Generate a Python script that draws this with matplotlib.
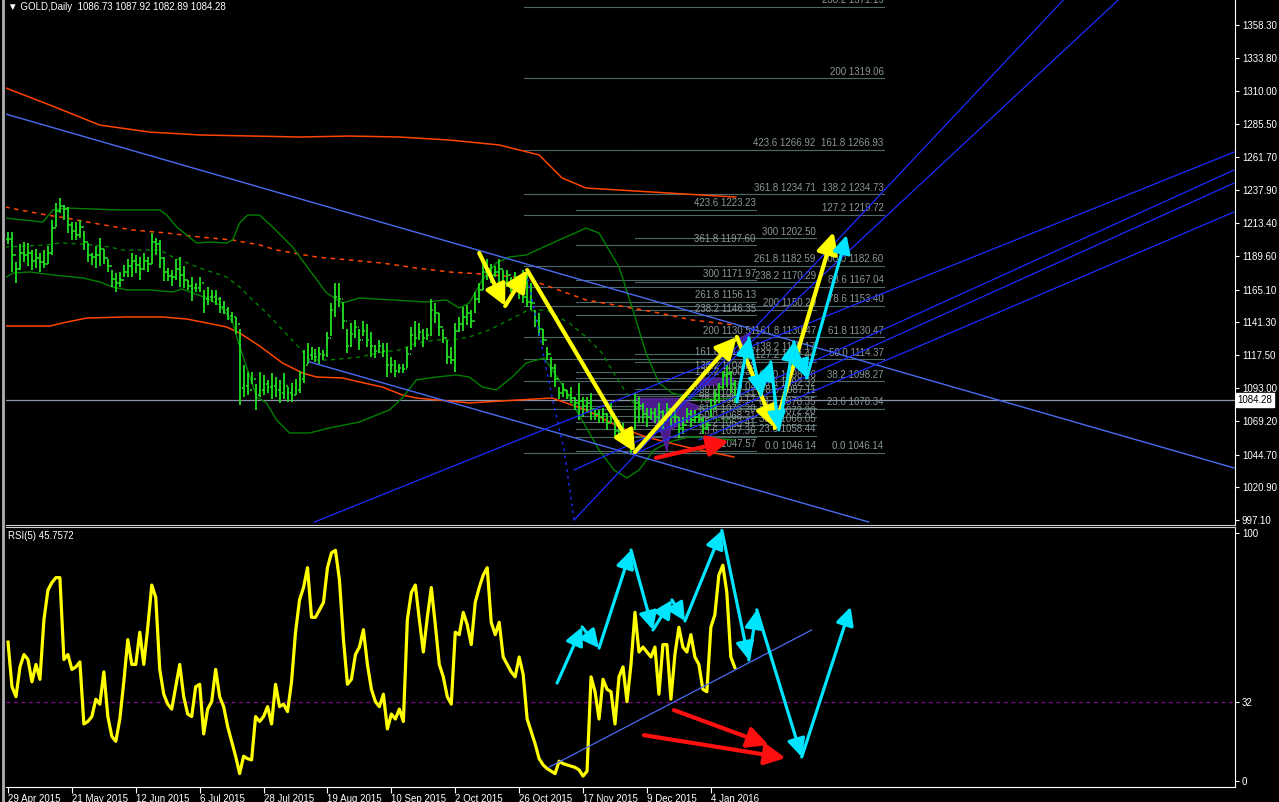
import matplotlib
matplotlib.use("Agg")
import matplotlib.pyplot as plt
import matplotlib.transforms as mtransforms
from matplotlib.lines import Line2D
from matplotlib.patches import Polygon

plt.rcParams["font.family"] = ["Liberation Sans", "DejaVu Sans"]

# ---------------- data (bar index 0 = 29 Apr 2015) ----------------
highs = [1207, 1207, 1185, 1198, 1200, 1199, 1194, 1195, 1192, 1194,
         1197, 1216, 1228, 1232, 1227, 1225, 1214, 1214, 1216, 1208,
         1199, 1192, 1197, 1203, 1195, 1187, 1179, 1177, 1178, 1183,
         1187, 1192, 1190, 1189, 1192, 1189, 1206, 1203, 1201, 1189,
         1181, 1179, 1187, 1189, 1182, 1172, 1174, 1170, 1174, 1165,
         1167, 1165, 1165, 1160, 1157, 1152, 1149, 1145, 1136, 1110,
         1105, 1105, 1096, 1105, 1103, 1099, 1104, 1101, 1099, 1104,
         1094, 1097, 1100, 1106, 1121, 1126, 1123, 1122, 1123, 1121,
         1134, 1155, 1170, 1170, 1156, 1136, 1141, 1143, 1136, 1142,
         1140, 1134, 1125, 1128, 1126, 1126, 1116, 1114, 1111, 1111,
         1123, 1138, 1142, 1141, 1136, 1137, 1158, 1155, 1148, 1136,
         1128, 1123, 1141, 1145, 1152, 1154, 1150, 1163, 1170, 1184,
         1187, 1184, 1182, 1187, 1179, 1179, 1174, 1178, 1172, 1179,
         1179, 1170, 1150, 1148, 1136, 1123, 1116, 1111, 1094, 1097,
         1092, 1094, 1087, 1097, 1087, 1087, 1090, 1079, 1077, 1079,
         1075, 1082, 1072, 1070, 1068, 1063, 1058, 1090, 1087, 1082,
         1079, 1079, 1079, 1082, 1077, 1082, 1079, 1077, 1072, 1072,
         1079, 1077, 1077, 1075, 1072, 1070, 1085, 1092, 1097, 1106,
         1111, 1106, 1099]
lows = [1198, 1178, 1170, 1179, 1185, 1182, 1179, 1181, 1178, 1181,
        1184, 1190, 1211, 1221, 1216, 1206, 1201, 1201, 1203, 1194,
        1185, 1183, 1181, 1182, 1184, 1178, 1167, 1163, 1167, 1174,
        1174, 1174, 1177, 1172, 1179, 1178, 1184, 1190, 1181, 1171,
        1171, 1168, 1172, 1167, 1166, 1165, 1157, 1163, 1163, 1148,
        1154, 1156, 1154, 1148, 1147, 1143, 1141, 1133, 1081, 1087,
        1088, 1096, 1077, 1087, 1088, 1090, 1085, 1087, 1082, 1085,
        1083, 1083, 1088, 1090, 1097, 1111, 1114, 1112, 1111, 1114,
        1116, 1131, 1145, 1152, 1136, 1119, 1123, 1130, 1121, 1131,
        1123, 1116, 1115, 1119, 1116, 1101, 1104, 1101, 1104, 1104,
        1108, 1121, 1123, 1128, 1123, 1128, 1131, 1141, 1131, 1126,
        1111, 1111, 1105, 1134, 1135, 1139, 1137, 1148, 1155, 1165,
        1172, 1170, 1174, 1167, 1163, 1167, 1163, 1167, 1158, 1155,
        1152, 1150, 1138, 1131, 1125, 1114, 1101, 1094, 1085, 1087,
        1085, 1082, 1077, 1070, 1072, 1075, 1070, 1070, 1068, 1068,
        1063, 1068, 1057, 1060, 1055, 1050, 1046, 1063, 1068, 1068,
        1065, 1070, 1068, 1068, 1063, 1072, 1065, 1068, 1057, 1060,
        1068, 1065, 1068, 1068, 1060, 1063, 1072, 1077, 1082, 1092,
        1094, 1090, 1082]
closes = [1202, 1190, 1180, 1192, 1190, 1192, 1186, 1188, 1185, 1184,
          1192, 1210, 1222, 1226, 1224, 1212, 1208, 1205, 1211, 1200,
          1190, 1189, 1190, 1195, 1188, 1182, 1173, 1170, 1172, 1178,
          1182, 1186, 1183, 1180, 1186, 1184, 1200, 1198, 1188, 1178,
          1175, 1174, 1180, 1176, 1172, 1168, 1166, 1166, 1170, 1158,
          1160, 1160, 1158, 1152, 1150, 1146, 1145, 1140, 1093, 1095,
          1092, 1100, 1088, 1092, 1096, 1094, 1095, 1092, 1090, 1095,
          1090, 1088, 1092, 1100, 1110, 1117, 1118, 1116, 1118, 1117,
          1130, 1150, 1160, 1158, 1142, 1124, 1133, 1138, 1128, 1135,
          1128, 1124, 1120, 1124, 1120, 1110, 1110, 1106, 1108, 1107,
          1118, 1132, 1130, 1134, 1130, 1132, 1150, 1148, 1138, 1130,
          1116, 1114, 1135, 1140, 1145, 1148, 1142, 1158, 1165, 1178,
          1180, 1176, 1178, 1180, 1170, 1176, 1168, 1174, 1164, 1160,
          1156, 1155, 1142, 1136, 1128, 1118, 1108, 1100, 1090, 1092,
          1088, 1086, 1082, 1084, 1080, 1082, 1078, 1074, 1072, 1074,
          1068, 1074, 1062, 1064, 1060, 1056, 1052, 1082, 1080, 1074,
          1072, 1075, 1072, 1076, 1070, 1078, 1072, 1072, 1064, 1066,
          1074, 1070, 1072, 1070, 1064, 1066, 1080, 1088, 1094, 1102,
          1104, 1096, 1084.28]
rsi = [56, 38, 34, 46, 51, 49, 40, 47, 41, 65,
       77, 80, 82, 82, 49, 51, 45, 46, 48, 23,
       24, 26, 33, 31, 44, 26, 18, 16, 25, 40,
       57, 47, 47, 60, 47, 62, 79, 74, 45, 35,
       31, 29, 38, 47, 34, 27, 26, 38, 39, 19,
       29, 32, 45, 34, 30, 22, 16, 10, 3, 10,
       9, 8.5, 26, 24, 26, 30, 23, 39, 30, 31,
       28, 40, 60, 73, 78, 86, 66, 66, 69, 72,
       86, 92, 93, 81, 57, 39, 41, 51, 54, 61,
       47, 37, 32, 30, 35, 21, 27, 25, 29, 24,
       65, 76, 79, 65, 52, 66, 78, 63, 47, 42,
       34, 31, 60, 59, 68, 63, 55, 72, 78, 83,
       86, 64, 59, 64, 50, 47, 44, 42, 50, 43,
       25, 20, 15, 9, 6.5, 5, 4, 3, 8, 7,
       6.5, 6, 5.5, 4.5, 2, 4, 42, 36, 25, 41,
       37, 36, 23, 42, 46, 32, 47, 68, 52, 54,
       52, 50, 54, 35, 55, 55, 33, 51, 62, 54,
       52, 59, 50, 47, 37, 36, 62, 67, 83, 87,
       76, 50, 45.76]

date_pos = [0, 16, 32, 48, 64, 80, 96, 112, 128, 144, 160, 176]
date_labels = ["29 Apr 2015", "21 May 2015", "12 Jun 2015", "6 Jul 2015",
               "28 Jul 2015", "19 Aug 2015", "10 Sep 2015", "2 Oct 2015",
               "26 Oct 2015", "17 Nov 2015", "9 Dec 2015", "4 Jan 2016"]
price_ticks = [1358.30, 1333.80, 1310.00, 1285.50, 1261.70, 1237.90, 1213.40,
               1189.60, 1165.10, 1141.30, 1117.50, 1093.00, 1069.20, 1044.70,
               1020.90, 997.10]
last_price = 1084.28

# indicator lines as (bar, price) knots
bb_upper = [(-0.75, 1217.2), (8.75, 1214.3), (11.25, 1223.1), (14.75, 1224.5), (28, 1223.1),
            (38, 1223.1), (39.75, 1219.4), (42.25, 1210.7), (44.75, 1204.8), (47.25, 1199.0),
            (50.5, 1199.7), (54.75, 1199.0), (56.25, 1201.2), (58, 1213.6), (60, 1219.4),
            (63, 1219.4), (66.25, 1210.7), (71.25, 1196.1), (75.5, 1179.3), (79.75, 1162.6),
            (83.75, 1155.3), (88, 1158.9), (96.25, 1157.5), (104.75, 1156.0), (109.75, 1157.5),
            (113, 1151.6), (115.5, 1155.3), (118.75, 1172.0), (122.25, 1184.4), (125.5, 1188.8),
            (129.75, 1190.3), (138, 1201.2), (144.75, 1209.9), (148, 1206.3), (153, 1181.5),
            (156.25, 1152.4), (159.75, 1118.8), (163, 1097.0), (166.25, 1089.7), (173, 1084.6),
            (181.75, 1086.0)]
bb_mid = [(-0.75, 1196.1), (9.75, 1197.6), (13, 1199.0), (18.75, 1198.3), (25.5, 1196.1),
          (28.75, 1193.9), (38, 1193.9), (41.25, 1188.8), (48, 1180.8), (54.75, 1174.2),
          (58, 1166.9), (61.25, 1157.5), (64.75, 1148.0), (68.75, 1135.6), (73, 1122.5),
          (75.5, 1113.7), (80.5, 1113.7), (88, 1115.9), (93.75, 1119.5), (98, 1121.0),
          (102.25, 1126.1), (107.25, 1128.3), (111.25, 1128.3), (115.5, 1130.5), (120.5, 1135.6),
          (125.5, 1142.9), (129.75, 1149.4), (134.75, 1150.2), (140.5, 1140.7), (144.75, 1130.5),
          (148.75, 1118.8), (152.25, 1101.3), (155.5, 1086.8), (158, 1077.3), (161.25, 1072.2),
          (173, 1070.0), (181.75, 1070.0)]
bb_lower = [(-0.75, 1173.5), (1.25, 1177.1), (5.5, 1177.9), (11.25, 1175.7), (18.75, 1173.5),
            (23, 1170.6), (26.25, 1166.9), (29.75, 1164.8), (35.5, 1164.8), (41.25, 1163.3),
            (43.5, 1165.5), (46.25, 1162.6), (49.75, 1158.9), (53, 1153.8), (56.25, 1141.4),
            (57.5, 1128.3), (59.75, 1108.6), (62.25, 1086.7), (64.75, 1082.4), (67.25, 1070.0),
            (70.5, 1060.5), (75.5, 1060.5), (80.5, 1064.2), (88, 1068.5), (95.5, 1077.3),
            (98.75, 1086.0), (102.25, 1099.2), (107.25, 1101.3), (112.25, 1102.8), (115.5, 1101.3),
            (118.75, 1094.0), (122.25, 1091.9), (126.25, 1101.3), (129.75, 1111.5), (134.25, 1115.2),
            (138, 1099.2), (143, 1073.6), (148, 1048.1), (151.75, 1033.5), (155, 1027.7),
            (158, 1033.5), (161.75, 1048.1), (165.5, 1053.9), (170.5, 1057.6), (175.5, 1056.9),
            (181.75, 1055.4)]
ma_long = [(-0.75, 1225.3), (3, 1223.1), (9.75, 1219.4), (14.75, 1217.2), (21.25, 1213.6),
           (31.25, 1208.5), (39.75, 1206.3), (48, 1203.4), (56.25, 1201.2), (63, 1197.6),
           (67.25, 1193.9), (77.25, 1188.8), (93.75, 1184.4), (102.25, 1180.8), (110.5, 1177.9),
           (118.75, 1176.4), (127.25, 1174.2), (133, 1169.9), (144.75, 1157.5), (154.75, 1152.4),
           (163, 1148.0), (171.25, 1142.9), (181.75, 1139.3)]
env_low = [(-0.75, 1138.5), (10.5, 1138.5), (14.75, 1141.4), (19.75, 1144.3), (29.75, 1145.1),
           (38.75, 1145.1), (44.75, 1143.6), (49.75, 1140.7), (54.75, 1137.8), (58, 1133.4),
           (63, 1123.9), (68.75, 1111.5), (73.75, 1104.2), (77.25, 1101.3), (83.75, 1100.6),
           (88, 1097.7), (93.75, 1094.0), (98.75, 1088.2), (102.25, 1086.0), (115.5, 1082.4),
           (128, 1084.6), (136.25, 1086.0), (144.75, 1077.3), (153, 1064.9), (159.75, 1057.6),
           (169.75, 1050.3), (181.75, 1043.0)]
env_high = [(-0.5, 1312.0), (10.5, 1299.6), (23, 1285.0), (35.5, 1279.9), (48, 1277.8),
            (73, 1276.3), (85.5, 1277.0), (98, 1276.3), (110.5, 1274.1), (123, 1270.5),
            (133, 1263.2), (138.75, 1246.4), (144.75, 1239.1), (161.25, 1236.2), (182.25, 1232.5)]

# trend / channel lines (bar, price) pairs
channel_lines = [[(-0.5, 1293.0), (307, 1035.0)],
                 [(75.5, 1112.3), (215.5, 995.6)]]
fan_lines = [[(76.75, 995.6), (307, 1265.3)],
             [(141.75, 1033.5), (307, 1252.2)],
             [(158, 1046.6), (307, 1242.7)],
             [(173, 1055.4), (307, 1221.6)],
             [(141.75, 997.1), (264.25, 1376.2)],
             [(170.5, 1084.6), (278, 1376.2)]]
dotted_blue = [(129.75, 1177.9), (133, 1133.4), (136.25, 1086.7), (139.25, 1048.1), (141.75, 997.1)]

# fibonacci sets: (levels, prices, start bar, end bar)
fib_levels = ["0.0", "23.6", "38.2", "50.0", "61.8", "78.6", "88.6", "100.0", "127.2",
              "138.2", "161.8", "200", "238.2", "261.8", "300", "361.8", "423.6"]
fib_a = [1047.57, 1057.36, 1063.41, 1068.31, 1073.20, 1080.17, 1084.31, 1089.04, 1100.32,
         1104.88, 1114.67, 1130.51, 1146.35, 1156.13, 1171.97, 1197.60, 1223.23]
fib_b = [1046.14, 1058.44, 1066.05, 1072.20, 1078.35, 1087.11, 1092.32, 1098.26, 1112.44,
         1118.17, 1130.47, 1150.29, 1170.29, 1182.59, 1202.50, 1234.71, 1266.92]
fib_c_levels = ["0.0", "23.6", "38.2", "50.0", "61.8", "78.6", "88.6", "100.0", "127.2",
                "138.2", "161.8", "200", "238.2"]
fib_c = [1046.14, 1078.34, 1098.27, 1114.37, 1130.47, 1153.40, 1167.04, 1182.60, 1219.72,
         1234.73, 1266.93, 1319.06, 1371.19]

# hand-drawn wave arrows (bar, value)
yellow_wave = [(118, 1191.7), (124.5, 1153.1), (130, 1179.3), (157, 1046.6),
               (182.5, 1130.5), (192, 1064.2), (206.75, 1207.0)]
cyan_wave = [(182.5, 1083.1), (185.5, 1129.8), (188.5, 1088.2), (191, 1112.3),
             (193, 1062.7), (196.75, 1126.8), (200, 1100.6), (210, 1204.8)]
red_price_arrow = [(162.25, 1042.3), (180.5, 1054.7)]
rsi_cyan_wave = [(137.5, 39.5), (143.75, 62.1), (148, 53.6), (156, 93.1), (161.5, 60.9),
                 (166.25, 73.0), (169.5, 64.5), (178.75, 101.0), (185.5, 48.8), (187.5, 69.0),
                 (198.75, 9.7), (211, 70.2)]
rsi_red_arrows = [[(166.75, 28.6), (190.5, 14.5)], [(159.25, 18.5), (194.75, 9.3)]]
rsi_trend = [(135.5, 5.6), (201.25, 60.9)]
purple_zones = [[(157.25, 1085.8), (168, 1085.8), (173, 1080.0), (170.5, 1069.0),
                 (166, 1063.2), (165, 1047.0), (163, 1065.0), (159.25, 1075.0)],
                [(173, 1100.6), (181.75, 1100.6), (181.75, 1096.2), (173, 1094.8)],
                [(182.5, 1128.3), (186, 1134.1), (185, 1122.5)]]

# ---------------- figure ----------------
W, H = 1279, 802
FS = 7
fig = plt.figure(figsize=(W / 100, H / 100), dpi=100, facecolor="black")
ax = fig.add_axes([6 / W, 1 - 525 / H, 1229 / W, 525 / H], facecolor="black")
ax2 = fig.add_axes([6 / W, 1 - 787 / H, 1229 / W, 260 / H], facecolor="black")

XMAX = 307.25
ax.set_xlim(-0.5, XMAX)
ax.set_ylim(993.4, 1376.2)
ax2.set_xlim(-0.5, XMAX)
ax2.set_ylim(-2.4, 102.4)

fib_line = "#4e6767"
fib_text = "#8a9898"
for prices, levels, x0, x1 in [(fib_c, fib_c_levels, 129.25, 219.25),
                               (fib_a, fib_levels, 142.25, 187.25),
                               (fib_b, fib_levels, 157.0, 202.25)]:
    for p, lv in zip(prices, levels):
        ax.plot([x0, x1], [p, p], color=fib_line, lw=0.8, zorder=1)
        ax.annotate(f"{lv} {p:.2f}", (x1, p), xytext=(0, 1), textcoords="offset points",
                    ha="right", va="bottom", color=fib_text, fontsize=FS, zorder=2)

# current price line
ax.axhline(last_price, color="#8c96a8", lw=0.9, zorder=1)


def poly(data, **kw):
    xs, ys = zip(*data)
    ax.plot(xs, ys, **kw)


poly(env_high, color="#ff4500", lw=1.1, zorder=3)
poly(env_low, color="#ff4500", lw=1.1, zorder=3)
poly(ma_long, color="#ff4500", lw=1.1, ls=(0, (3, 3)), zorder=3)
poly(bb_upper, color="#008000", lw=1.0, zorder=3)
poly(bb_lower, color="#008000", lw=1.0, zorder=3)
poly(bb_mid, color="#008000", lw=1.0, ls=(0, (3, 3)), zorder=3)

for zone in purple_zones:
    ax.add_patch(Polygon(zone, closed=True, facecolor="#4b1c8c", edgecolor="#6a2ab0",
                         lw=0.6, zorder=3))

# OHLC bars
bars = range(len(closes))
opens = [closes[0]] + closes[:-1]
ax.vlines(bars, lows, highs, color="#22e022", lw=1.3, zorder=4)
ax.hlines(opens, [b - 0.45 for b in bars], bars, color="#22e022", lw=1.1, zorder=4)
ax.hlines(closes, bars, [b + 0.45 for b in bars], color="#22e022", lw=1.1, zorder=4)

for ln in channel_lines:
    poly(ln, color="#4a6cf0", lw=1.0, zorder=5)
for ln in fan_lines:
    poly(ln, color="#1e2cff", lw=0.9, zorder=5)
poly(dotted_blue, color="#1e2cff", lw=1.0, ls=(0, (2, 3)), zorder=5)


def arrows(axis, pts, color, lw, ms):
    for a, b in zip(pts[:-1], pts[1:]):
        axis.annotate("", xy=b, xytext=a,
                      arrowprops=dict(arrowstyle="-|>,head_length=0.9,head_width=0.45",
                                      color=color, lw=lw, mutation_scale=ms,
                                      shrinkA=0, shrinkB=0), zorder=7)


arrows(ax, yellow_wave, "#ffff00", 3.0, 14)
arrows(ax, cyan_wave, "#00e5ff", 2.3, 12)
arrows(ax, red_price_arrow, "#ff1010", 3.0, 14)

# RSI panel
ax2.plot(range(len(rsi)), rsi, color="#ffff00", lw=2.3, zorder=4)
ax2.axhline(32, color="#8b008b", lw=0.9, ls=(0, (3, 3)), zorder=2)
xs, ys = zip(*rsi_trend)
ax2.plot(xs, ys, color="#4a6cf0", lw=0.9, zorder=5)
arrows(ax2, rsi_cyan_wave, "#00e5ff", 2.3, 12)
for ra in rsi_red_arrows:
    arrows(ax2, ra, "#ff1010", 3.0, 14)

# axes styling
for a in (ax, ax2):
    for s in a.spines.values():
        s.set_visible(False)
    a.spines["right"].set_visible(True)
    a.spines["right"].set_color("white")
    a.yaxis.tick_right()
    a.tick_params(axis="y", colors="white", labelsize=FS, length=3, pad=2)
ax.spines["bottom"].set_visible(True)
ax.spines["bottom"].set_color("#d0d0d0")
ax2.spines["top"].set_visible(True)
ax2.spines["top"].set_color("#d0d0d0")
ax2.spines["bottom"].set_visible(True)
ax2.spines["bottom"].set_color("white")

ax.set_xticks([])
ax.set_yticks(price_ticks)
ax.set_yticklabels([f"{p:.2f}" for p in price_ticks])
ax2.set_yticks([0, 32, 100])
ax2.set_yticklabels(["0", "32", "100"])
ax2.set_xticks(date_pos)
ax2.set_xticklabels(date_labels)
ax2.tick_params(axis="x", colors="white", labelsize=FS, length=4, pad=1)
for t in ax2.get_xticklabels():
    t.set_ha("left")

trans = mtransforms.blended_transform_factory(ax.transAxes, ax.transData)
ax.text(1.002, last_price, f"{last_price:.2f}", transform=trans, ha="left", va="center",
        fontsize=FS, color="black",
        bbox=dict(boxstyle="square,pad=0.2", facecolor="white", edgecolor="white"))

ax.text(0.002, 0.997, "\u25BC GOLD,Daily  1086.73 1087.92 1082.89 1084.28",
        transform=ax.transAxes, ha="left", va="top", color="white", fontsize=FS)
ax2.text(0.002, 0.985, "RSI(5) 45.7572", transform=ax2.transAxes, ha="left", va="top",
         color="white", fontsize=FS)

fig.add_artist(Line2D([2.5 / W, 2.5 / W], [0, 1], color="#b0b0b0", lw=2.0))

fig.savefig("out.png", dpi=100, facecolor="black")
